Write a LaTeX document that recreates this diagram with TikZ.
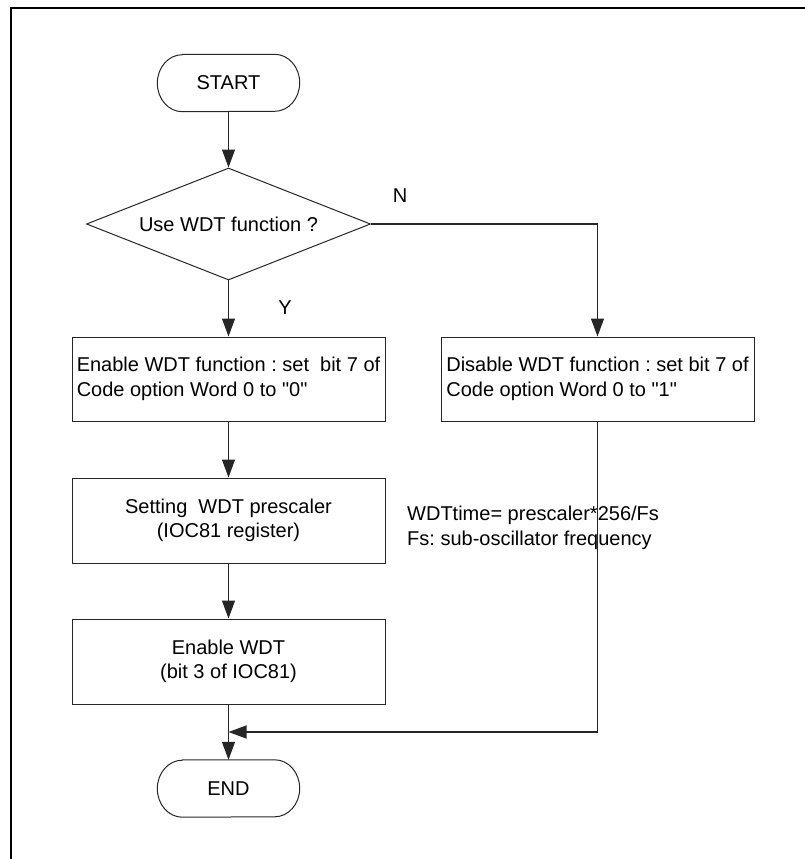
\documentclass[tikz,border=0pt]{standalone}
\usepackage{fontspec}
\setmainfont{Liberation Sans}
\usetikzlibrary{arrows.meta,shapes.geometric}
\frenchspacing
\newcommand{\qq}{\textquotedbl}
\newcommand{\termoutline}[1]{%
  \draw[line width=1pt,draw=black!85] ([xshift=25pt]#1.north west) -- ([xshift=-25pt]#1.north east)
    arc[start angle=90,end angle=-90,x radius=25pt,y radius=28.5pt]
    -- ([xshift=25pt]#1.south west)
    arc[start angle=270,end angle=90,x radius=25pt,y radius=28.5pt] -- cycle;}
\begin{document}
\begin{tikzpicture}[x=1pt,y=-1pt,
  every node/.style={font=\fontsize{20}{24.5}\selectfont},
  ln/.style={line width=1.2pt,draw=black!85},
  arr/.style={ln,-{Triangle[length=18pt,width=13pt]}},
  term/.style={rectangle,minimum width=142pt,minimum height=57pt,inner sep=0pt},
  dec/.style={diamond,draw=black!85,line width=1pt,minimum width=284pt,minimum height=112pt,shape aspect=2.536,inner sep=0pt},
  lbox/.style={rectangle,draw=black!85,line width=1pt,minimum width=313pt,minimum height=84pt,inner xsep=2pt,align=left},
  cbox/.style={rectangle,draw=black!85,line width=1pt,minimum width=313pt,minimum height=85pt,inner xsep=2pt,align=center},
  lbl/.style={inner sep=0pt}
]
\useasboundingbox (0,0) rectangle (805,859);
% frame (only top and left edges visible)
\draw[line width=2pt] (11,859) -- (11,7.8) -- (805,7.8);

\node[term] (start) at (228.5,83) {START};
\termoutline{start}
\node[dec] (d) at (228.5,224) {Use WDT function ?};
\node[lbox] (en) at (228.5,379) {Enable WDT function : set\ \ bit 7 of\\Code option Word 0 to \qq0\qq};
\node[lbox] (dis) at (597.5,379) {Disable WDT function : set bit 7 of\\Code option Word 0 to \qq1\qq};
\node[cbox] (pre) at (228.5,520.5) {Setting\ \ WDT prescaler\\(IOC81 register)};
\node[cbox] (ew) at (228.5,661.5) {Enable WDT\\(bit 3 of IOC81)};
\node[term] (end) at (228.5,788.5) {END};
\termoutline{end}

\node[lbl] (n) at (400,196) {N};
\node[lbl] (y) at (285,308) {Y};
\node[lbl,anchor=west,align=left] (note) at (407,528) {WDTtime= prescaler*256/Fs\\Fs: sub-oscillator frequency};

\coordinate (m) at (228.5,732);

\draw[arr] (start) -- (d);
\draw[arr] (d) -- (en);
\draw[arr] (d.east) -| (dis.north);
\draw[arr] (en) -- (pre);
\draw[arr] (pre) -- (ew);
\draw[arr] (ew) -- (end);
\draw[arr] (dis.south) |- (m);
\end{tikzpicture}
\end{document}
